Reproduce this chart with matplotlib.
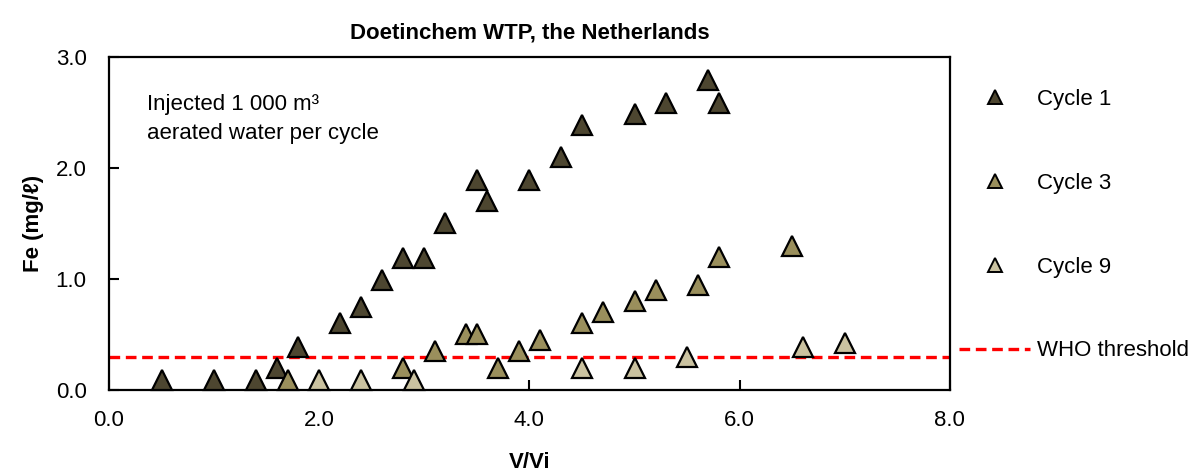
import matplotlib
matplotlib.use('Agg')
import matplotlib.pyplot as plt
from matplotlib.lines import Line2D

# Data
c1_x = [0.5, 1.0, 1.4, 1.6, 1.8, 2.2, 2.4, 2.6, 2.8, 3.0, 3.2, 3.5, 3.6, 4.0, 4.3, 4.5, 5.0, 5.3, 5.7, 5.8]
c1_y = [0.09, 0.09, 0.09, 0.2, 0.39, 0.6, 0.75, 0.99, 1.19, 1.19, 1.5, 1.89, 1.7, 1.89, 2.1, 2.39, 2.49, 2.59, 2.79, 2.59]

c3_x = [1.7, 2.8, 3.1, 3.4, 3.5, 3.7, 3.9, 4.1, 4.5, 4.7, 5.0, 5.2, 5.6, 5.8, 6.5]
c3_y = [0.09, 0.2, 0.35, 0.5, 0.5, 0.2, 0.35, 0.45, 0.6, 0.7, 0.8, 0.9, 0.95, 1.2, 1.3]

c9_x = [2.0, 2.4, 2.9, 4.5, 5.0, 5.5, 6.6, 7.0]
c9_y = [0.09, 0.09, 0.09, 0.2, 0.2, 0.3, 0.39, 0.42]

who_threshold = 0.3

x_ticks = [0.0, 2.0, 4.0, 6.0, 8.0]
y_ticks = [0.0, 1.0, 2.0, 3.0]

# Style
plt.rcParams['font.family'] = ['Liberation Sans', 'DejaVu Sans']
plt.rcParams['font.size'] = 16

col_c1 = '#4d4630'
col_c3 = '#9a8f5c'
col_c9 = '#cac2a0'

fig = plt.figure(figsize=(11.92, 4.75), dpi=100)
ax = fig.add_axes([0.0914, 0.179, 0.7055, 0.701])

ax.axhline(who_threshold, color='#ff0000', linewidth=2.4, linestyle=(0, (3.2, 1.7)), zorder=1)

mk = dict(marker='^', linestyle='none', markersize=14, markeredgecolor='black',
          markeredgewidth=1.6, zorder=3, clip_on=False)
ax.plot(c1_x, c1_y, markerfacecolor=col_c1, **mk)
ax.plot(c3_x, c3_y, markerfacecolor=col_c3, **mk)
ax.plot(c9_x, c9_y, markerfacecolor=col_c9, **mk)

ax.set_xlim(0, 8)
ax.set_ylim(0, 3)
ax.set_xticks(x_ticks)
ax.set_yticks(y_ticks)
ax.set_xticklabels([f'{v:.1f}' for v in x_ticks])
ax.set_yticklabels([f'{v:.1f}' for v in y_ticks])
ax.tick_params(axis='x', direction='in', length=7, width=1.5, pad=14.5, labelsize=16)
ax.tick_params(axis='y', direction='in', length=7, width=1.5, pad=16, labelsize=16)
for s in ax.spines.values():
    s.set_linewidth(1.6)

ax.set_title('Doetinchem WTP, the Netherlands', fontweight='bold', fontsize=16, pad=13)
ax.set_xlabel('V/Vi', fontweight='bold', fontsize=16)
ax.xaxis.set_label_coords(0.5, -0.185)
ax.set_ylabel('Fe (mg/ℓ)', fontweight='bold', fontsize=16, va='center')
ax.yaxis.set_label_coords(-0.09, 0.5)

ax.text(0.045, 0.89, 'Injected 1 000 m³\naerated water per cycle', transform=ax.transAxes,
        fontsize=16, va='top', ha='left', linespacing=1.55)

# Legend outside on the right
handles = [
    Line2D([], [], marker='^', linestyle='none', markersize=10.5, markerfacecolor=col_c1,
           markeredgecolor='black', markeredgewidth=1.4),
    Line2D([], [], marker='^', linestyle='none', markersize=10.5, markerfacecolor=col_c3,
           markeredgecolor='black', markeredgewidth=1.4),
    Line2D([], [], marker='^', linestyle='none', markersize=10.5, markerfacecolor=col_c9,
           markeredgecolor='black', markeredgewidth=1.4),
    Line2D([], [], color='#ff0000', linewidth=2.4, linestyle=(0, (3.2, 1.7))),
]
labels = ['Cycle 1', 'Cycle 3', 'Cycle 9', 'WHO threshold']
fig.legend(handles, labels, loc='upper left', bbox_to_anchor=(0.8045, 0.813), frameon=False,
           fontsize=16, handlelength=3.2, handletextpad=0.3, labelspacing=2.83,
           borderaxespad=0, borderpad=0)

fig.savefig('out.png', dpi=100)
